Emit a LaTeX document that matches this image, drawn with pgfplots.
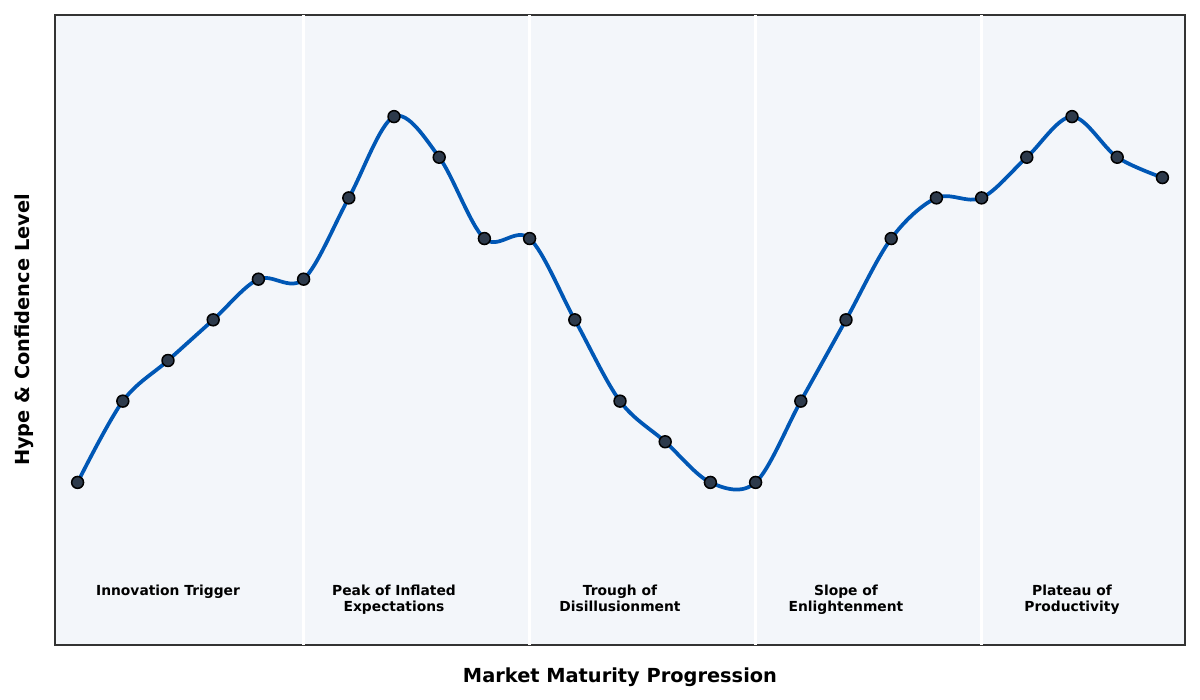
\documentclass[border=0pt]{standalone}
\usepackage{fontspec}
\setmainfont{DejaVu Sans}
\usepackage{pgfplots}
\pgfplotsset{compat=1.18}
\definecolor{curve}{HTML}{0057B5}
\definecolor{dotfill}{HTML}{2D3A4B}
\definecolor{panel}{HTML}{F3F6FA}
\definecolor{frame}{HTML}{333333}
\begin{document}
\begin{tikzpicture}
\begin{axis}[
  scale only axis,
  width=11.30in, height=6.30in,
  xmin=-0.5, xmax=24.5,
  ymin=-2, ymax=13.5,
  axis background/.style={fill=panel},
  axis line style={draw=frame, line width=1.1pt},
  xtick=\empty, ytick=\empty,
  extra x ticks={5,10,15,20},
  extra x tick labels={},
  extra x tick style={grid=major, major grid style={white, line width=2pt}, major tick length=0pt},
  xlabel={\fontsize{14}{16}\selectfont\bfseries Market Maturity Progression},
  ylabel={\fontsize{14}{16}\selectfont\bfseries Hype \& Confidence Level},
  xlabel style={at={(0.5,0)}, anchor=center, yshift=-0.32in},
  ylabel style={at={(0,0.5)}, anchor=center, yshift=0.31in},
  clip=false,
]
\addplot[curve, line width=2.7pt, smooth, tension=0.55,
  mark=*, mark size=4.3pt,
  mark options={fill=dotfill, draw=black, line width=1.1pt}]
  coordinates {
  (0,2) (1,4) (2,5) (3,6) (4,7) (5,7) (6,9) (7,11) (8,10) (9,8)
  (10,8) (11,6) (12,4) (13,3) (14,2) (15,2) (16,4) (17,6) (18,8) (19,9)
  (20,9) (21,10) (22,11) (23,10) (24,9.5)
};
\begin{scope}[every node/.style={anchor=north, align=center, font=\fontsize{10}{11.6}\selectfont\bfseries}]
\node at (axis cs:2,-0.40) {Innovation Trigger};
\node at (axis cs:7,-0.40) {Peak of Inflated\\Expectations};
\node at (axis cs:12,-0.40) {Trough of\\Disillusionment};
\node at (axis cs:17,-0.40) {Slope of\\Enlightenment};
\node at (axis cs:22,-0.40) {Plateau of\\Productivity};
\end{scope}
\end{axis}
\path ([shift={(-0.55in,-0.55in)}]current axis.south west) rectangle ([shift={(0.15in,0.15in)}]current axis.north east);
\end{tikzpicture}
\end{document}
